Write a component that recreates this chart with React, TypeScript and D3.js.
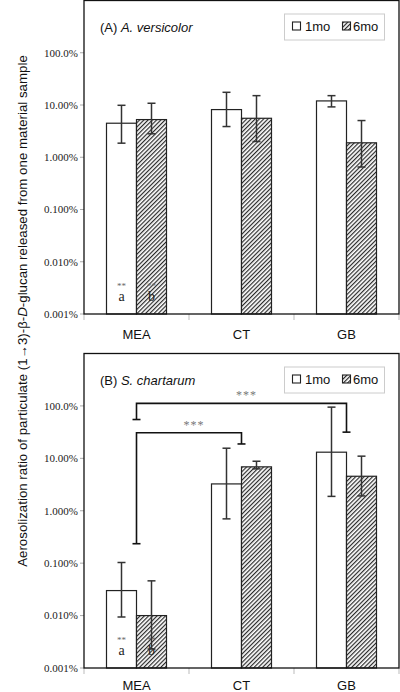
import React from "react";
import * as d3 from "d3";

const categories = ["MEA", "CT", "GB"];
const seriesNames = ["1mo", "6mo"];
const tickValues = [0.001, 0.01, 0.1, 1, 10, 100];
const tickLabels = ["0.001%", "0.010%", "0.100%", "1.000%", "10.00%", "100.0%"];

// Panel A (A. versicolor), values in %
const aMean1mo = [4.48, 8.17, 11.97];
const aLow1mo = [1.86, 3.87, 9.2];
const aHigh1mo = [9.87, 17.5, 15.1];
const aMean6mo = [5.26, 5.57, 1.89];
const aLow6mo = [2.81, 2.0, 0.65];
const aHigh6mo = [10.8, 15.1, 5.04];

// Panel B (S. chartarum), values in %
const bMean1mo = [0.03, 3.25, 13.1];
const bLow1mo = [0.0094, 0.7, 1.88];
const bHigh1mo = [0.103, 15.6, 94.8];
const bMean6mo = [0.01, 6.88, 4.55];
const bLow6mo = [0.0023, 6.3, 1.92];
const bHigh6mo = [0.046, 8.8, 11.0];

// significance brackets in panel B
const bracketFrom = ["MEA", "MEA"];
const bracketTo = ["GB", "CT"];
const bracketLevel = [112, 30.7];
const bracketLeftFoot = [55, 0.235];
const bracketRightFoot = [31.6, 18.8];
const bracketLabel = ["***", "***"];

const W = 400;
const H = 692;
const left = 84;
const right = 399;
const SERIF = "'Liberation Serif', 'Times New Roman', serif";
const SANS = "'Liberation Sans', Arial, sans-serif";

function Panel({ top, bottom, labelY, title, species, mean1, low1, high1, mean6, low6, high6, brackets }) {
  const x = d3.scaleBand().domain(categories).range([left, right]).padding(0);
  const inner = d3
    .scaleBand()
    .domain(seriesNames)
    .range([0, x.bandwidth()])
    .paddingOuter(0.75)
    .paddingInner(0);
  const y = d3.scaleLog().domain([0.001, 1000]).range([bottom, top]);
  const bw = inner.bandwidth();
  const series = [
    { name: "1mo", mean: mean1, low: low1, high: high1, fill: "#fff" },
    { name: "6mo", mean: mean6, low: low6, high: high6, fill: "url(#hatch)" },
  ];
  const cap = 4;
  return (
    <g>
      {tickValues.map((t, i) => (
        <g key={"t" + i}>
          <line x1={left - 4} x2={left} y1={y(t)} y2={y(t)} stroke="#aaa" strokeWidth={1} />
          <text
            x={left - 6}
            y={y(t)}
            dy="0.35em"
            textAnchor="end"
            fontFamily={SERIF}
            fontSize={11}
            fill="#222"
          >
            {tickLabels[i]}
          </text>
        </g>
      ))}
      {[...categories.map((c) => x(c)), right].map((v, i) => (
        <line key={"xt" + i} x1={v} x2={v} y1={bottom} y2={bottom + 6} stroke="#bbb" strokeWidth={1} />
      ))}
      {categories.map((c) => (
        <text
          key={"xl" + c}
          x={x(c) + x.bandwidth() / 2}
          y={labelY}
          textAnchor="middle"
          fontFamily={SANS}
          fontSize={13}
          fill="#111"
        >
          {c}
        </text>
      ))}
      {series.map((s) =>
        categories.map((c, i) => {
          const bx = x(c) + inner(s.name);
          const by = y(s.mean[i]);
          return (
            <rect
              key={s.name + c}
              x={bx}
              y={by}
              width={bw}
              height={bottom - by}
              fill={s.fill}
              stroke="#222"
              strokeWidth={1.2}
            />
          );
        })
      )}
      {seriesNames.map((n, k) => {
        const cx = x("MEA") + inner(n) + bw / 2;
        return (
          <g key={"ab" + n} fontFamily={SERIF} textAnchor="middle">
            <text x={cx} y={bottom - 25} fontSize={9} fill="#666">
              **
            </text>
            <text x={cx} y={bottom - 13} fontSize={14} fill="#222">
              {k === 0 ? "a" : "b"}
            </text>
          </g>
        );
      })}
      {series.map((s) =>
        categories.map((c, i) => {
          const cx = x(c) + inner(s.name) + bw / 2;
          return (
            <g key={"e" + s.name + c} stroke="#333" strokeWidth={1.5}>
              <line x1={cx} x2={cx} y1={y(s.high[i])} y2={y(s.low[i])} />
              <line x1={cx - cap} x2={cx + cap} y1={y(s.high[i])} y2={y(s.high[i])} />
              <line x1={cx - cap} x2={cx + cap} y1={y(s.low[i])} y2={y(s.low[i])} />
            </g>
          );
        })
      )}
      {brackets &&
        bracketFrom.map((f, i) => {
          const x1 = x(f) + x.bandwidth() / 2;
          const x2 = x(bracketTo[i]) + x.bandwidth() / 2;
          const yl = y(bracketLevel[i]);
          const y1 = y(bracketLeftFoot[i]);
          const y2 = y(bracketRightFoot[i]);
          return (
            <g key={"br" + i}>
              <path d={`M${x1},${y1}V${yl}H${x2}V${y2}`} fill="none" stroke="#111" strokeWidth={1.6} />
              <line x1={x1 - 4} x2={x1 + 4} y1={y1} y2={y1} stroke="#111" strokeWidth={1.6} />
              <line x1={x2 - 4} x2={x2 + 4} y1={y2} y2={y2} stroke="#111" strokeWidth={1.6} />
              <text
                x={(x1 + x2) / 2 + 5}
                y={yl - 4}
                textAnchor="middle"
                fontFamily={SERIF}
                fontSize={12}
                letterSpacing={1}
                fill="#777"
              >
                {bracketLabel[i]}
              </text>
            </g>
          );
        })}
      <rect x={left} y={top} width={right - left} height={bottom - top} fill="none" stroke="#111" strokeWidth={1.3} />
      <text x={100} y={top + 31} fontFamily={SANS} fontSize={13} fill="#111">
        {title + " "}
        <tspan fontStyle="italic">{species}</tspan>
      </text>
      <rect x={284.5} y={top + 13.5} width={100} height={26} fill="#fff" stroke="#ccc" strokeWidth={1} />
      <rect x={292.5} y={top + 21.5} width={8} height={8} fill="#fff" stroke="#222" strokeWidth={1.1} />
      <text x={305} y={top + 30} fontFamily={SANS} fontSize={13} fill="#111">
        1mo
      </text>
      <rect x={342.5} y={top + 21.5} width={8} height={8} fill="url(#hatch)" stroke="#222" strokeWidth={1.1} />
      <text x={353} y={top + 30} fontFamily={SANS} fontSize={13} fill="#111">
        6mo
      </text>
    </g>
  );
}

export default function App() {
  return (
    <svg
      width={W}
      height={H}
      viewBox={`0 0 ${W} ${H}`}
      style={{ position: "absolute", left: 0, top: 0, background: "#fff" }}
    >
      <defs>
        <pattern id="hatch" patternUnits="userSpaceOnUse" width={3} height={3} patternTransform="rotate(45)">
          <rect width={3} height={3} fill="#fff" />
          <line x1={0.6} y1={0} x2={0.6} y2={3} stroke="#2a2a2a" strokeWidth={1.2} />
        </pattern>
      </defs>
      <rect x={0} y={0} width={W} height={H} fill="#fff" />
      <Panel
        top={0.5}
        bottom={314}
        labelY={339}
        title="(A)"
        species="A. versicolor"
        mean1={aMean1mo}
        low1={aLow1mo}
        high1={aHigh1mo}
        mean6={aMean6mo}
        low6={aLow6mo}
        high6={aHigh6mo}
        brackets={false}
      />
      <Panel
        top={353.5}
        bottom={668}
        labelY={690}
        title="(B)"
        species="S. chartarum"
        mean1={bMean1mo}
        low1={bLow1mo}
        high1={bHigh1mo}
        mean6={bMean6mo}
        low6={bLow6mo}
        high6={bHigh6mo}
        brackets={true}
      />
      <text
        transform={`translate(22,311) rotate(-90)`}
        textAnchor="middle"
        dy="0.35em"
        fontFamily={SANS}
        fontSize={13.3}
        fill="#111"
      >
        Aerosolization ratio of particulate (1→3)-β-<tspan fontStyle="italic">D</tspan>-glucan released from one material sample
      </text>
    </svg>
  );
}
